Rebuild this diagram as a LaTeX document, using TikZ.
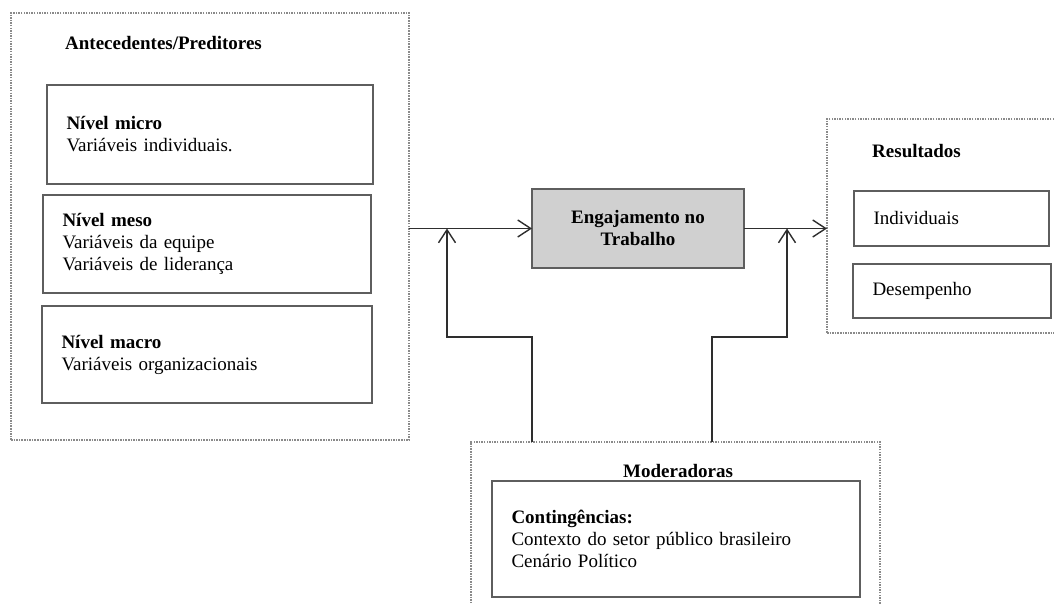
\documentclass[tikz,border=0pt]{standalone}
\usepackage{fontspec}
\setmainfont{Liberation Serif}
\usetikzlibrary{arrows.meta,positioning}
\definecolor{emInk}{HTML}{2E2E2E}
\definecolor{emFrame}{HTML}{5E5E5E}
\definecolor{emDots}{HTML}{8A8A8A}
\definecolor{emCore}{HTML}{D0D0D0}
\tikzset{
 model/.style={font=\fontsize{19pt}{22pt}\selectfont,text=black,line join=miter},
 group/.style={rectangle,draw=emDots,line width=1.7pt,dash pattern=on 1.5pt off 1.1pt,
   inner sep=0pt,outer sep=0pt,anchor=north west},
 lvlbox/.style={rectangle,draw=emFrame,fill=white,line width=1.8pt,inner xsep=19.5pt,
   inner ysep=0pt,outer sep=0pt,align=left,anchor=north west},
 core/.style={rectangle,draw=emFrame,fill=emCore,line width=1.8pt,align=center,
   outer sep=0pt,minimum width=212pt,minimum height=79pt,font=\fontsize{19pt}{22pt}\selectfont\bfseries},
 grouptitle/.style={font=\fontsize{19pt}{22pt}\selectfont\bfseries,anchor=base west,inner sep=0pt},
 conn/.style={draw=emInk,line width=1.4pt},
 tip/.style={-{Straight Barb[length=13pt,width=17pt]}}
}

\begin{document}
\begin{tikzpicture}[model,x=1pt,y=-1pt]
 \fill[white] (0,0) rectangle (1054,604);
 \useasboundingbox (0,0) rectangle (1054,604);
 % dotted groups
 \node[group,minimum width=398pt,minimum height=427pt] (ante) at (11,13) {};
 \node[group,minimum width=260pt,minimum height=214pt] (res) at (827,119) {};
 \node[group,minimum width=409pt,minimum height=200pt] (mod) at (471,442) {};
 \node[grouptitle] (anteT) at (65,50) {Antecedentes/Preditores};
 \node[grouptitle] (resT) at (872,158) {Resultados};
 \node[grouptitle] (modT) at (623,477) {Moderadoras};
 % levels
 \node[lvlbox,text width=287pt,minimum height=99pt] (micro) at (47,85)
   {\textbf{Nível micro}\\Variáveis individuais.};
 \node[lvlbox,text width=289pt,minimum height=98pt] (meso) at (43,195)
   {\textbf{Nível meso}\\Variáveis da equipe\\Variáveis de liderança};
 \node[lvlbox,text width=291pt,minimum height=97pt] (macro) at (42,306)
   {\textbf{Nível macro}\\Variáveis organizacionais};
 \node[lvlbox,text width=156pt,minimum height=55pt] (indiv) at (854,191) {Individuais};
 \node[lvlbox,text width=159pt,minimum height=54pt] (desemp) at (853,264) {Desempenho};
 \node[lvlbox,text width=329pt,minimum height=116pt] (cont) at (492,481)
   {\textbf{Contingências:}\\Contexto do setor público brasileiro\\Cenário Político};
 % engagement
 \node[core] (eng) at (638,228.5) {Engajamento no\\Trabalho};
 \coordinate (bendL) at (447,337);
 \coordinate (bendR) at (787,337);
 \draw[conn,tip] (ante.east |- eng.west) -- (eng.west);
 \draw[conn,tip] (eng.east) -- (eng.east -| res.west);
 \draw[conn,tip] ([xshift=61pt]mod.north west) |- (bendL) -- (bendL |- eng.west);
 \draw[conn,tip] ([xshift=241pt]mod.north west) |- (bendR) -- (bendR |- eng.east);
\end{tikzpicture}
\end{document}
